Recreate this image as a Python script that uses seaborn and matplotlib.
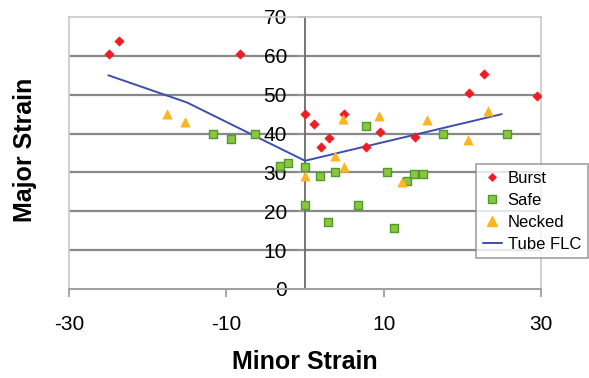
import matplotlib
matplotlib.use("Agg")
import matplotlib.pyplot as plt
import seaborn as sns
import pandas as pd
from matplotlib.lines import Line2D

# ---- data ----
burst_x = [-24.9, -23.6, -8.3, 0.0, 1.2, 2.0, 3.1, 4.9, 7.75, 9.5, 14.0, 20.8, 22.8, 29.5]
burst_y = [60.5, 63.8, 60.5, 45.0, 42.5, 36.6, 38.9, 45.1, 36.6, 40.4, 39.2, 50.4, 55.3, 49.7]

safe_x = [-11.7, -9.4, -6.3, -3.2, -2.1, 0.0, 0.0, 1.9, 3.85, 2.9, 6.7, 7.75, 10.4, 11.3,
          13.0, 13.9, 15.0, 17.6, 25.7]
safe_y = [39.9, 38.6, 39.9, 31.7, 32.3, 31.5, 21.5, 29.2, 30.1, 17.2, 21.5, 41.9, 30.1, 15.7,
          27.8, 29.6, 29.6, 39.8, 39.8]

necked_x = [-17.5, -15.2, 0.0, 3.85, 4.9, 4.8, 9.4, 12.3, 15.5, 20.7, 23.3]
necked_y = [45.0, 43.1, 29.1, 34.2, 31.5, 43.7, 44.5, 27.6, 43.4, 38.3, 45.8]

flc_x = [-25, -15, 0, 25]
flc_y = [55, 48, 33, 45]

x_ticks = [-30, -10, 10, 30]
y_ticks = [0, 10, 20, 30, 40, 50, 60, 70]

burst_df = pd.DataFrame({"Minor Strain": burst_x, "Major Strain": burst_y})
safe_df = pd.DataFrame({"Minor Strain": safe_x, "Major Strain": safe_y})
necked_df = pd.DataFrame({"Minor Strain": necked_x, "Major Strain": necked_y})
flc_df = pd.DataFrame({"Minor Strain": flc_x, "Major Strain": flc_y})

sns.set_style("white")
plt.rcParams["font.family"] = ["Liberation Sans", "DejaVu Sans"]
plt.rcParams["text.color"] = "black"
plt.rcParams["axes.labelcolor"] = "black"
plt.rcParams["xtick.labelcolor"] = "black"
plt.rcParams["ytick.labelcolor"] = "black"

fig = plt.figure(figsize=(5.89, 3.78), dpi=100)
ax = fig.add_axes([69 / 589, 1 - 289 / 378, 472 / 589, 272 / 378])

# gridlines
for yv in y_ticks[1:-1]:
    ax.axhline(yv, color="#888888", lw=1.6, zorder=0)

red = "#f01c24"
green_face = "#8cc63f"
green_edge = "#4f9a2d"
orange = "#fbb520"
blue = "#3d4eae"

sns.lineplot(data=flc_df, x="Minor Strain", y="Major Strain", ax=ax, color=blue,
             lw=1.4, sort=False, zorder=2, label="Tube FLC")
sns.scatterplot(data=burst_df, x="Minor Strain", y="Major Strain", ax=ax, marker="D",
                s=22, color=red, edgecolor=red, linewidth=0.5, zorder=3, label="Burst")
sns.scatterplot(data=safe_df, x="Minor Strain", y="Major Strain", ax=ax, marker="s",
                s=32, color=green_face, edgecolor=green_edge, linewidth=1.0, zorder=3, label="Safe")
sns.scatterplot(data=necked_df, x="Minor Strain", y="Major Strain", ax=ax, marker="^",
                s=44, color=orange, edgecolor=orange, linewidth=0.5, zorder=3, label="Necked")

ax.set_xlim(-30, 30)
ax.set_ylim(0, 70)
ax.set_xticks(x_ticks)
ax.set_yticks(y_ticks)
ax.set_xticklabels([str(v) for v in x_ticks])
ax.set_yticklabels([str(v) for v in y_ticks])

# spines
ax.spines["left"].set_position(("data", 0))
ax.spines["left"].set_color("#6a6a6a")
ax.spines["left"].set_linewidth(1.3)
ax.spines["left"].set_zorder(1)
ax.spines["bottom"].set_color("#a0a0a0")
ax.spines["bottom"].set_linewidth(1.5)
for s in ["top", "right"]:
    ax.spines[s].set_color("#c8c8c8")
    ax.spines[s].set_linewidth(1.2)
ax.axvline(-30, color="#c8c8c8", lw=1.2, clip_on=False, zorder=0)

ax.tick_params(axis="x", which="major", bottom=True, length=6, width=1.3,
               color="#a0a0a0", labelsize=15, pad=13, direction="out")
ax.tick_params(axis="y", which="major", left=True, length=5, width=1.3,
               color="#999999", labelsize=15, pad=8, direction="out")

ax.set_xlabel("Minor Strain", fontsize=18, fontweight="bold")
ax.set_ylabel("Major Strain", fontsize=18, fontweight="bold")
ax.xaxis.set_label_coords(0.5, -0.225)
ax.yaxis.set_label_coords(-0.068, 0.51)

# legend
if ax.get_legend():
    ax.get_legend().remove()
handles = [
    Line2D([], [], marker="D", ls="none", color=red, markersize=4.5, markeredgewidth=0.5),
    Line2D([], [], marker="s", ls="none", markerfacecolor=green_face, markeredgecolor=green_edge,
           markersize=6, markeredgewidth=1.0),
    Line2D([], [], marker="^", ls="none", color=orange, markersize=7),
    Line2D([], [], color=blue, lw=1.4),
]
leg = fig.legend(handles, ["Burst", "Safe", "Necked", "Tube FLC"],
                 loc="upper left", bbox_to_anchor=(476 / 589, 1 - 164 / 378),
                 fontsize=12, frameon=True, fancybox=False, edgecolor="#8a8a8a",
                 borderpad=0.4, labelspacing=0.42, handlelength=1.15, handletextpad=0.35,
                 borderaxespad=0)
leg.get_frame().set_linewidth(1.2)

fig.savefig("out.png", dpi=100)
